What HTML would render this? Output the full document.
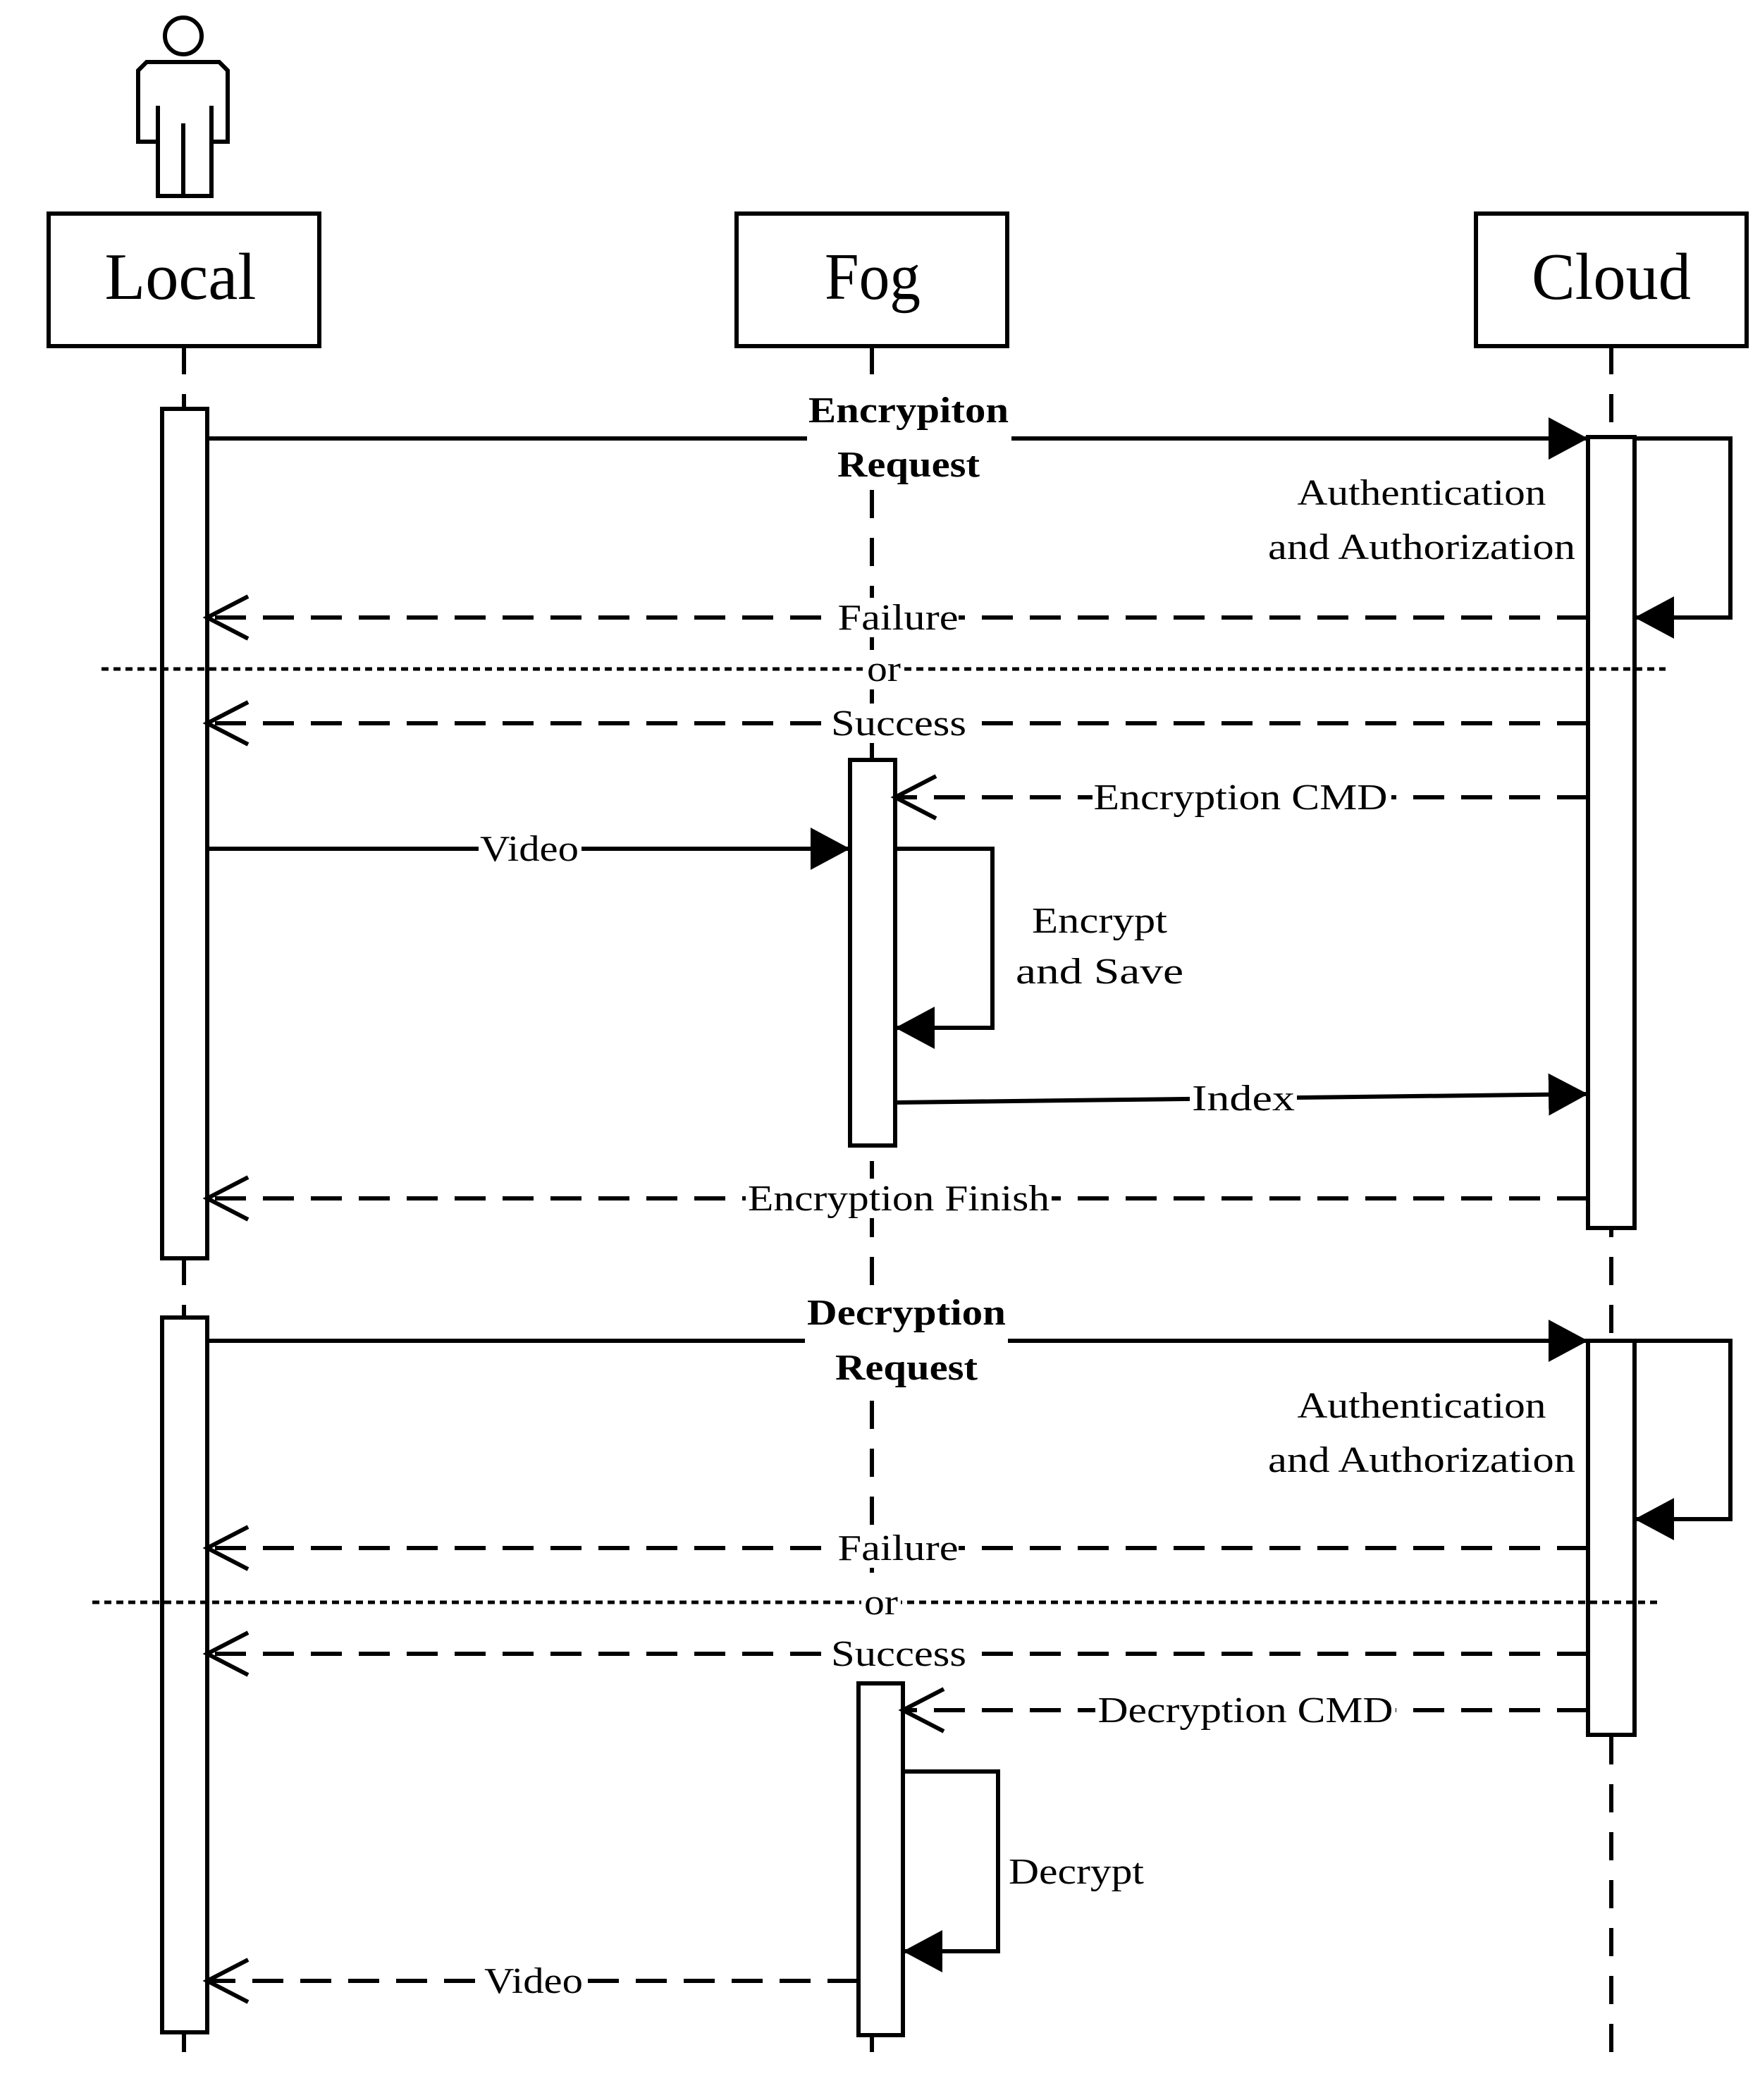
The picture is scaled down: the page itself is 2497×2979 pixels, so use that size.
<!DOCTYPE html>
<html><head><meta charset="utf-8"><style>html,body{margin:0;padding:0;background:#fff}svg{display:block}</style></head>
<body>
<svg width="2497" height="2979" viewBox="0 0 2497 2979" xmlns="http://www.w3.org/2000/svg">
<defs>
<marker id="fa" markerUnits="userSpaceOnUse" markerWidth="60" markerHeight="64" refX="56" refY="30" orient="auto"><path d="M0,0 L56,30 L0,60 Z" fill="#000"/></marker>
<marker id="oa" markerUnits="userSpaceOnUse" markerWidth="70" markerHeight="70" refX="62" refY="34" orient="auto"><path d="M4,4 L62,34 L4,64" fill="none" stroke="#000" stroke-width="6"/></marker>
</defs>
<g stroke="#000" stroke-width="6" fill="none">
<circle cx="260" cy="51" r="26"/>
<path d="M196,100 L208,88 L311,88 L323,100 L323,201 L300,201 L300,278 L224,278 L224,201 L196,201 Z"/>
<path d="M224,150 V201 M300,150 V201 M260,175 V278"/>
<rect x="69" y="303" width="384" height="188"/>
<rect x="1045" y="303" width="384" height="188"/>
<rect x="2094" y="303" width="384" height="188"/>
<g stroke-dasharray="40 28">
<line x1="261" y1="491" x2="261" y2="2925"/>
<line x1="1237" y1="491" x2="1237" y2="2925"/>
<line x1="2286" y1="491" x2="2286" y2="2925"/>
</g>
</g>
<g stroke="#000" stroke-width="6" fill="#fff">
<rect x="230" y="580" width="64" height="1205"/>
<rect x="230" y="1869" width="64" height="1014"/>
<rect x="1206" y="1078" width="64" height="547"/>
<rect x="1218" y="2388" width="63" height="499"/>
<rect x="2253" y="620" width="66" height="1122"/>
<rect x="2253" y="1902" width="66" height="559"/>
</g>
<g stroke="#000" stroke-width="6" fill="none">
<line x1="294" y1="622" x2="2253" y2="622" marker-end="url(#fa)"/>
<polyline points="2319,622 2455,622 2455,876 2319,876" marker-end="url(#fa)"/>
<line x1="294" y1="1204" x2="1206" y2="1204" marker-end="url(#fa)"/>
<polyline points="1270,1204 1408,1204 1408,1458 1270,1458" marker-end="url(#fa)"/>
<line x1="1270" y1="1564" x2="2253" y2="1552" marker-end="url(#fa)"/>
<line x1="294" y1="1902" x2="2253" y2="1902" marker-end="url(#fa)"/>
<polyline points="2319,1902 2455,1902 2455,2155 2319,2155" marker-end="url(#fa)"/>
<polyline points="1281,2513 1416,2513 1416,2768 1281,2768" marker-end="url(#fa)"/>
<g stroke-dasharray="44 24">
<line x1="2253" y1="876" x2="294" y2="876" marker-end="url(#oa)"/>
<line x1="2253" y1="1026" x2="294" y2="1026" marker-end="url(#oa)"/>
<line x1="2253" y1="1131" x2="1270" y2="1131" marker-end="url(#oa)"/>
<line x1="2253" y1="1700" x2="294" y2="1700" marker-end="url(#oa)"/>
<line x1="2253" y1="2196" x2="294" y2="2196" marker-end="url(#oa)"/>
<line x1="2253" y1="2346" x2="294" y2="2346" marker-end="url(#oa)"/>
<line x1="2253" y1="2426" x2="1281" y2="2426" marker-end="url(#oa)"/>
<line x1="1218" y1="2810" x2="294" y2="2810" marker-end="url(#oa)"/>
</g>
<g stroke-width="5" stroke-dasharray="10 7">
<line x1="144" y1="949" x2="2363" y2="949"/>
<line x1="131" y1="2273" x2="2353" y2="2273"/>
</g>
</g>
<g fill="#fff">
<rect x="1145" y="548" width="290" height="140"/>
<rect x="1188" y="848" width="172" height="56"/>
<rect x="1224" y="922" width="56" height="56"/>
<rect x="1175" y="998" width="200" height="56"/>
<rect x="1550" y="1103" width="424" height="56"/>
<rect x="679" y="1176" width="146" height="56"/>
<rect x="1688" y="1530" width="152" height="56"/>
<rect x="1058" y="1672" width="434" height="56"/>
<rect x="1142" y="1828" width="288" height="140"/>
<rect x="1188" y="2168" width="172" height="56"/>
<rect x="1222" y="2246" width="56" height="56"/>
<rect x="1175" y="2318" width="200" height="56"/>
<rect x="1554" y="2398" width="426" height="56"/>
<rect x="684" y="2782" width="146" height="56"/>
</g>
<g font-family="'Liberation Serif', serif" font-size="94" text-anchor="middle" fill="#000">
<text x="256" y="424" textLength="215" lengthAdjust="spacingAndGlyphs">Local</text>
<text x="1238" y="424" textLength="136" lengthAdjust="spacingAndGlyphs">Fog</text>
<text x="2286" y="424" textLength="226" lengthAdjust="spacingAndGlyphs">Cloud</text>
</g>
<g font-family="'Liberation Serif', serif" font-size="52" text-anchor="middle" fill="#000">
<text x="1289" y="599" font-weight="bold" textLength="284" lengthAdjust="spacingAndGlyphs">Encrypiton</text>
<text x="1289" y="676" font-weight="bold" textLength="202" lengthAdjust="spacingAndGlyphs">Request</text>
<text x="2017" y="716" textLength="353" lengthAdjust="spacingAndGlyphs">Authentication</text>
<text x="2017" y="793" textLength="436" lengthAdjust="spacingAndGlyphs">and Authorization</text>
<text x="1274" y="893" textLength="171" lengthAdjust="spacingAndGlyphs">Failure</text>
<text x="1254" y="966" textLength="48" lengthAdjust="spacingAndGlyphs">or</text>
<text x="1275" y="1043" textLength="192" lengthAdjust="spacingAndGlyphs">Success</text>
<text x="1760" y="1148" textLength="417" lengthAdjust="spacingAndGlyphs">Encryption CMD</text>
<text x="751" y="1221" textLength="140" lengthAdjust="spacingAndGlyphs">Video</text>
<text x="1560" y="1323" textLength="192" lengthAdjust="spacingAndGlyphs">Encrypt</text>
<text x="1560" y="1395" textLength="238" lengthAdjust="spacingAndGlyphs">and Save</text>
<text x="1764" y="1575" textLength="146" lengthAdjust="spacingAndGlyphs">Index</text>
<text x="1275" y="1717" textLength="428" lengthAdjust="spacingAndGlyphs">Encryption Finish</text>
<text x="1286" y="1879" font-weight="bold" textLength="282" lengthAdjust="spacingAndGlyphs">Decryption</text>
<text x="1286" y="1957" font-weight="bold" textLength="202" lengthAdjust="spacingAndGlyphs">Request</text>
<text x="2017" y="2011" textLength="353" lengthAdjust="spacingAndGlyphs">Authentication</text>
<text x="2017" y="2088" textLength="436" lengthAdjust="spacingAndGlyphs">and Authorization</text>
<text x="1274" y="2213" textLength="171" lengthAdjust="spacingAndGlyphs">Failure</text>
<text x="1250" y="2290" textLength="48" lengthAdjust="spacingAndGlyphs">or</text>
<text x="1275" y="2363" textLength="192" lengthAdjust="spacingAndGlyphs">Success</text>
<text x="1767" y="2443" textLength="419" lengthAdjust="spacingAndGlyphs">Decryption CMD</text>
<text x="1527" y="2672" textLength="192" lengthAdjust="spacingAndGlyphs">Decrypt</text>
<text x="757" y="2827" textLength="140" lengthAdjust="spacingAndGlyphs">Video</text>
</g>
</svg>
</body></html>
